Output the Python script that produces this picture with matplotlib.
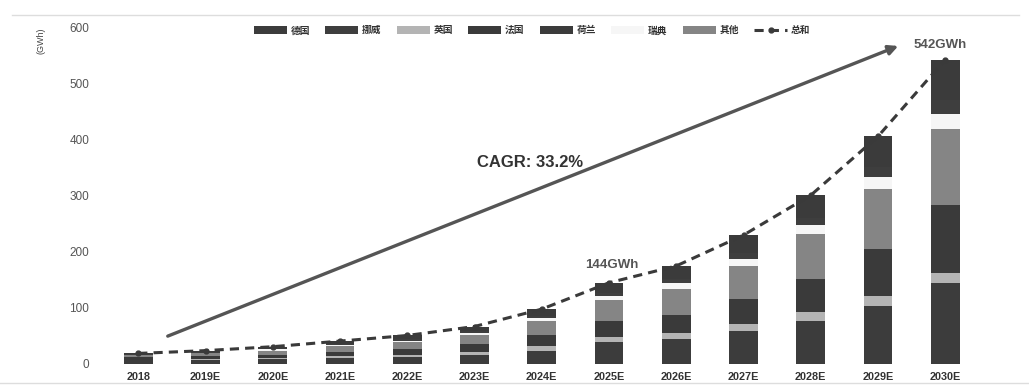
import numpy as np
import matplotlib
matplotlib.use("Agg")
import matplotlib.pyplot as plt
from matplotlib.lines import Line2D

plt.rcParams['font.family'] = ['Liberation Sans', 'Noto Sans CJK SC', 'DejaVu Sans']

# 数据（GWh），按堆叠顺序自下而上
years = ['2018', '2019E', '2020E', '2021E', '2022E', '2023E', '2024E',
         '2025E', '2026E', '2027E', '2028E', '2029E', '2030E']
germany = [6, 6, 8, 10, 12, 16, 23, 38, 44, 58, 75, 102, 143]
uk = [1, 2, 2, 3, 4, 5, 8, 10, 10, 13, 16, 19, 19]
france = [4, 5, 6, 8, 10, 13, 20, 28, 32, 44, 60, 84, 120]
others = [4, 5, 7, 10, 12, 17, 24, 37, 46, 59, 80, 107, 136]
sweden = [1, 1, 2, 2, 3, 4, 6, 7, 11, 12, 16, 21, 27]
norway = [1, 1, 1, 2, 2, 3, 4, 6, 8, 11, 13, 18, 24]
netherlands = [1, 3, 4, 5, 7, 8, 12, 18, 23, 32, 40, 54, 73]

series = [
    ('德国', germany, '#3c3c3c'),
    ('英国', uk, '#b4b4b4'),
    ('法国', france, '#3a3a3a'),
    ('其他', others, '#858585'),
    ('瑞典', sweden, '#f6f6f6'),
    ('挪威', norway, '#3e3e3e'),
    ('荷兰', netherlands, '#3b3b3b'),
]
legend_order = ['德国', '挪威', '英国', '法国', '荷兰', '瑞典', '其他', '总和']

x = np.arange(len(years))
total = np.sum([s[1] for s in series], axis=0)

fig = plt.figure(figsize=(10.29, 3.88), dpi=100)
ax = fig.add_axes([0.1017, 0.0631, 0.8496, 0.8673])

handles = {}
bottom = np.zeros(len(years))
for name, vals, color in series:
    b = ax.bar(x, vals, width=0.43, bottom=bottom, color=color, linewidth=0)
    handles[name] = b
    bottom += np.array(vals)

line, = ax.plot(x, total, linestyle=(0, (3, 2)), color='#3a3a3a', linewidth=2.2,
                marker='o', markersize=3.5, markerfacecolor='#3a3a3a')
handles['总和'] = line

# CAGR 箭头
ax.annotate('', xy=(11.34, 568), xytext=(0.4, 47),
            arrowprops=dict(arrowstyle='-|>', color='#555555', lw=2.4,
                            mutation_scale=14))
ax.text(5.83, 359, 'CAGR: 33.2%', ha='center', va='center', fontsize=12,
        fontweight='bold', color='#333333')
ax.text(7.04, 175, f'{total[7]:.0f}GWh', ha='center', va='center', fontsize=9.5,
        fontweight='bold', color='#555555')
ax.text(11.93, 568, f'{total[-1]:.0f}GWh', ha='center', va='center', fontsize=9.5,
        fontweight='bold', color='#555555')

ax.set_xlim(-0.5, len(years) - 0.5)
ax.set_ylim(0, 600)
ax.set_yticks(range(0, 601, 100))
ax.set_xticks(x)
ax.set_xticklabels(years, fontsize=7.8, fontweight='bold', color='#333333')
ax.tick_params(axis='y', labelsize=8.5, labelcolor='#555555', length=0, pad=11)
ax.tick_params(axis='x', length=0, pad=6)
for sp in ax.spines.values():
    sp.set_visible(False)

ax.text(-0.0725, 1.0, '(GWh)', transform=ax.transAxes, rotation=90,
        ha='center', va='top', fontsize=6.5, color='#444444')

leg = ax.legend([handles[n] for n in legend_order], legend_order, ncol=8,
                loc='center', bbox_to_anchor=(0.489, 0.99), frameon=False,
                fontsize=7, handlelength=3.4, handleheight=0.75,
                handletextpad=0.4, columnspacing=1.55)
for t in leg.get_texts():
    t.set_fontweight('bold')
    t.set_color('#333333')

# 上下边框线
fig.add_artist(Line2D([0.012, 0.99], [0.962, 0.962], color='#dddddd', lw=1))
fig.add_artist(Line2D([0.0, 1.0], [0.013, 0.013], color='#dddddd', lw=1))

fig.savefig('out.png', dpi=100)
